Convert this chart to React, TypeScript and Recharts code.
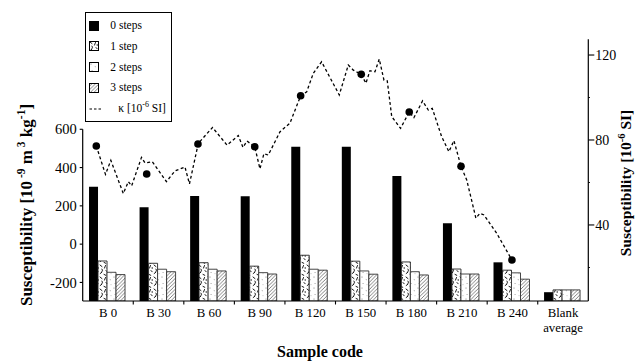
import React from 'react';
import { ComposedChart, Bar, Line, Scatter, XAxis, YAxis, Legend } from 'recharts';

const FONT = "'Liberation Serif', 'DejaVu Serif', serif";

// ---- data ----
const CATEGORIES = ['B 0', 'B 30', 'B 60', 'B 90', 'B 120', 'B 150', 'B 180', 'B 210', 'B 240', 'Blank\naverage'];
const STEPS_0 = [300, 193, 252, 250, 509, 509, 356, 109, -95, -251];
const STEPS_1 = [-88, -100, -97, -115, -58, -89, -93, -130, -136, -239];
const STEPS_2 = [-147, -131, -131, -149, -131, -140, -144, -156, -150, -239];
const STEPS_3 = [-159, -144, -140, -156, -136, -157, -161, -156, -183, -239];

// continuous kappa profile (depth, value)
const KAPPA_DEPTH = [0, 5.3, 8.4, 15.6, 18.5, 20.4, 26.1, 28.1, 32.3, 40.5, 45.4, 51.2, 53.8, 58.9, 67.1, 75.5, 82, 84.7, 87, 91.5, 94.5, 96.8, 99.3, 106.1, 111.8, 118, 121.5, 125.3, 130.1, 140.3, 145.5, 148.4, 153, 155.7, 158, 160.9, 163.4, 166.1, 168, 170.6, 175.7, 180.7, 183.4, 188.4, 191.7, 194, 199.4, 203.6, 206.5, 210.6, 213.9, 219.2, 221.5, 223.9, 231.2, 240];
const KAPPA_VALUE = [77.2, 63.8, 70.4, 54.8, 60.4, 58.4, 71.8, 69.2, 69.8, 60.4, 65.4, 67.3, 59.3, 78.4, 85.9, 77.6, 82.1, 76.5, 79.5, 76.8, 66.4, 73.6, 72.9, 83.9, 87.9, 100.8, 102.7, 111.4, 116.8, 101.2, 115.3, 112.9, 110.9, 106.7, 112.6, 112.1, 118.1, 108.2, 107.9, 91.0, 85.5, 93.2, 90.5, 98.4, 94.1, 94.9, 81.6, 74.5, 79.7, 67.6, 61.2, 43.2, 45.5, 44.7, 36.1, 23.5];

// kappa of the individual samples (dots)
const DOT_DEPTH = [0, 29.1, 58.7, 91.5, 118, 153, 180.7, 210.6, 240];
const DOT_VALUE = [77.2, 64.0, 78.1, 76.8, 100.8, 110.9, 93.2, 67.6, 23.5];

const LEFT_TICKS = [-200, 0, 200, 400, 600];
const RIGHT_TICKS = [20, 40, 60, 80, 100, 120];
const RIGHT_MAJOR = [40, 80, 120];
const LEGEND_LABELS = ['0 steps', '1 step', '2 steps', '3 steps'];

// ---- axis settings ----
const LEFT_DOMAIN: [number, number] = [-297, 1070];
const RIGHT_DOMAIN: [number, number] = [4.2, 127.4];
const DEPTH_DOMAIN: [number, number] = [-7.85, 284.1];
const LEFT_TOP_TICK = 600;

const DATA = CATEGORIES.map((name, i) => ({
  name,
  s0: STEPS_0[i],
  s1: STEPS_1[i],
  s2: STEPS_2[i],
  s3: STEPS_3[i],
}));
const KAPPA_DATA = KAPPA_DEPTH.map((d, i) => ({ d, k: KAPPA_VALUE[i] }));
const DOT_DATA = DOT_DEPTH.map((d, i) => ({ d, k: DOT_VALUE[i] }));

const W = 639;
const H = 362;
const M_TOP = 39.3;
const X_AXIS_H = 61;
const LEFT_W = 82.7;
const RIGHT_W = 50.7;
const PLOT_H = H - M_TOP - X_AXIS_H;
const leftGap = ((LEFT_DOMAIN[1] - LEFT_TOP_TICK) / (LEFT_DOMAIN[1] - LEFT_DOMAIN[0])) * PLOT_H;

const base = LEFT_DOMAIN[0];

const XTick = (props: any) => {
  const { x, y, payload, width } = props;
  const half = width / CATEGORIES.length / 2;
  const axisY = y - 6;
  const lines = String(payload.value).split('\n');
  return (
    <g>
      {payload.index > 0 && (
        <line x1={x - half} x2={x - half} y1={axisY} y2={axisY + 3.5} stroke="#000" strokeWidth={1.1} />
      )}
      <text x={x} y={y + 9.5} textAnchor="middle" fontFamily={FONT} fontSize={12.8} fill="#000">
        {lines.map((ln, i) => (
          <tspan key={i} x={x} dy={i === 0 ? 0 : 15.5}>
            {ln}
          </tspan>
        ))}
      </text>
    </g>
  );
};

const RightTick = (props: any) => {
  const { x, y, payload } = props;
  const ax = x - 7;
  const major = RIGHT_MAJOR.includes(payload.value);
  return (
    <g>
      <line x1={ax} x2={ax + (major ? 6 : 1.6)} y1={y} y2={y} stroke="#000" strokeWidth={1.1} />
      {major && (
        <text x={x} y={y} dy="0.36em" textAnchor="start" fontFamily={FONT} fontSize={14} fill="#000">
          {payload.value}
        </text>
      )}
    </g>
  );
};

const LeftLabel = () => (
  <text
    transform="translate(31.5,205) rotate(-90)"
    textAnchor="middle"
    fontFamily={FONT}
    fontWeight="bold"
    fontSize={17}
    fill="#000"
  >
    Susceptibility [10
    <tspan dy={-7} fontSize={11.5}> -9</tspan>
    <tspan dy={7}> m</tspan>
    <tspan dy={-7} fontSize={11.5}> 3</tspan>
    <tspan dy={7}> kg</tspan>
    <tspan dy={-7} fontSize={11.5}>-1</tspan>
    <tspan dy={7}>]</tspan>
  </text>
);

const RightLabel = () => (
  <text
    transform="translate(630.5,183) rotate(-90)"
    textAnchor="middle"
    fontFamily={FONT}
    fontWeight="bold"
    fontSize={15.5}
    fill="#000"
  >
    Susceptibility [10
    <tspan dy={-6} fontSize={10.5}>-6</tspan>
    <tspan dy={6}> SI]</tspan>
  </text>
);

const XLabel = () => (
  <text x={320} y={357} textAnchor="middle" fontFamily={FONT} fontWeight="bold" fontSize={16} fill="#000">
    Sample code
  </text>
);

const Swatch = ({ i }: { i: number }) => {
  if (i === 4) {
    return (
      <svg width={24} height={10} style={{ display: 'block' }}>
        <line x1={0.5} x2={14} y1={5} y2={5} stroke="#000" strokeWidth={1.2} strokeDasharray="2.5 2" />
      </svg>
    );
  }
  const fills = ['#000', 'url(#pat1)', 'url(#pat2)', 'url(#pat3)'];
  return (
    <svg width={24} height={10} style={{ display: 'block' }}>
      <rect x={0.5} y={0.5} width={9} height={9} fill={fills[i]} stroke="#000" strokeWidth={1} />
    </svg>
  );
};

const renderLegend = () => (
  <div
    style={{
      border: '1px solid #000',
      boxSizing: 'border-box',
      width: 87,
      height: 110,
      background: '#fff',
      fontFamily: FONT,
      fontSize: 11.5,
      color: '#000',
      paddingTop: 2.6,
      paddingLeft: 3.3,
      lineHeight: 1,
    }}
  >
    {[...LEGEND_LABELS, 'kappa'].map((lab, i) => (
      <div key={i} style={{ display: 'flex', alignItems: 'center', height: 20.8, whiteSpace: 'nowrap' }}>
        <div style={{ width: i === 4 ? 29 : 21 }}>
          <Swatch i={i} />
        </div>
        {i < 4 ? (
          <span>{lab}</span>
        ) : (
          <span>
            κ [10<sup style={{ fontSize: 8, verticalAlign: 'top', position: 'relative', top: -2 }}>-6</sup> SI]
          </span>
        )}
      </div>
    ))}
  </div>
);

export default function App() {
  return (
    <div style={{ position: 'absolute', left: 0, top: 0, width: W, height: H, background: '#fff', fontFamily: FONT }}>
      <ComposedChart
        width={W}
        height={H}
        data={DATA}
        margin={{ top: M_TOP, right: 0, bottom: 0, left: 0 }}
        barCategoryGap="12.5%"
        barGap={0}
      >
        <defs>
          <pattern id="pat1" patternUnits="userSpaceOnUse" width={9} height={12}>
            <rect width={9} height={12} fill="#fff" />
            <g stroke="#000" strokeWidth={0.9} fill="none" strokeLinecap="round">
              <path d="M1 1 l2 1.6" />
              <path d="M6.5 1.5 l-1 2.6" />
              <path d="M3 5 q1.3 1 0 2.6" />
              <path d="M7 6.5 l1.2 1.3" />
              <path d="M1.2 9.5 l1.6 -1.2" />
              <path d="M5 10.4 l1.8 0.9" />
              <path d="M8.2 3.6 l0 0.8" />
            </g>
          </pattern>
          <pattern id="pat2" patternUnits="userSpaceOnUse" width={8} height={11}>
            <rect width={8} height={11} fill="#fff" />
            <g stroke="#666" strokeWidth={0.7} fill="none">
              <path d="M2 1.5 l0 1.2" />
              <path d="M5.8 4.5 l0.9 0.3" />
              <path d="M2.8 8 l0.5 0.9" />
              <path d="M7 9.5 l0 0.6" />
            </g>
          </pattern>
          <pattern id="pat3" patternUnits="userSpaceOnUse" width={3.6} height={3.6}>
            <rect width={3.6} height={3.6} fill="#fff" />
            <path d="M0 3.6 L3.6 0 M-1 1 L1 -1 M2.6 4.6 L4.6 2.6" stroke="#555" strokeWidth={0.75} />
          </pattern>
        </defs>

        <XAxis
          dataKey="name"
          interval={0}
          height={X_AXIS_H}
          tickLine={false}
          tickSize={4}
          tickMargin={2}
          axisLine={{ stroke: '#000', strokeWidth: 1.2 }}
          tick={(p: any) => <XTick {...p} />}
          label={{ content: () => <XLabel /> }}
        />
        <XAxis xAxisId="depth" type="number" dataKey="d" domain={DEPTH_DOMAIN} allowDataOverflow hide />
        <YAxis
          yAxisId="left"
          width={LEFT_W}
          type="number"
          domain={LEFT_DOMAIN}
          allowDataOverflow
          ticks={LEFT_TICKS}
          interval={0}
          tickSize={3}
          tickMargin={3}
          tickLine={{ stroke: '#000', strokeWidth: 1.1 }}
          axisLine={{ stroke: '#000', strokeWidth: 1.2, strokeDasharray: `0 ${leftGap} ${PLOT_H}` }}
          tick={{ fill: '#000', fontSize: 14.5, fontFamily: FONT }}
          label={{ content: () => <LeftLabel /> }}
        />
        <YAxis
          yAxisId="right"
          orientation="right"
          dataKey="k"
          width={RIGHT_W}
          type="number"
          domain={RIGHT_DOMAIN}
          allowDataOverflow
          ticks={RIGHT_TICKS}
          interval={0}
          tickSize={6}
          tickMargin={1}
          tickLine={false}
          axisLine={{ stroke: '#000', strokeWidth: 1.2 }}
          tick={(p: any) => <RightTick {...p} />}
          label={{ content: () => <RightLabel /> }}
        />

        <Bar yAxisId="left" name="0 steps" dataKey={(d: any) => [base, d.s0]} fill="#000" isAnimationActive={false} />
        <Bar yAxisId="left" name="1 step" dataKey={(d: any) => [base, d.s1]} fill="url(#pat1)" stroke="#222" strokeWidth={0.9} isAnimationActive={false} />
        <Bar yAxisId="left" name="2 steps" dataKey={(d: any) => [base, d.s2]} fill="url(#pat2)" stroke="#333" strokeWidth={0.9} isAnimationActive={false} />
        <Bar yAxisId="left" name="3 steps" dataKey={(d: any) => [base, d.s3]} fill="url(#pat3)" stroke="#333" strokeWidth={0.9} isAnimationActive={false} />

        <Line
          xAxisId="depth"
          yAxisId="right"
          data={KAPPA_DATA}
          dataKey="k"
          type="linear"
          stroke="#000"
          strokeWidth={1.3}
          strokeDasharray="3 2.5"
          dot={false}
          activeDot={false}
          isAnimationActive={false}
        />
        <Scatter
          xAxisId="depth"
          yAxisId="right"
          data={DOT_DATA}
          dataKey="k"
          fill="#000"
          isAnimationActive={false}
          shape={(p: any) => <circle cx={p.cx} cy={p.cy} r={3.8} fill="#000" />}
        />

        <Legend
          layout="vertical"
          align="center"
          verticalAlign="middle"
          wrapperStyle={{ left: 85, top: 11.7 }}
          content={renderLegend}
        />
      </ComposedChart>
    </div>
  );
}
